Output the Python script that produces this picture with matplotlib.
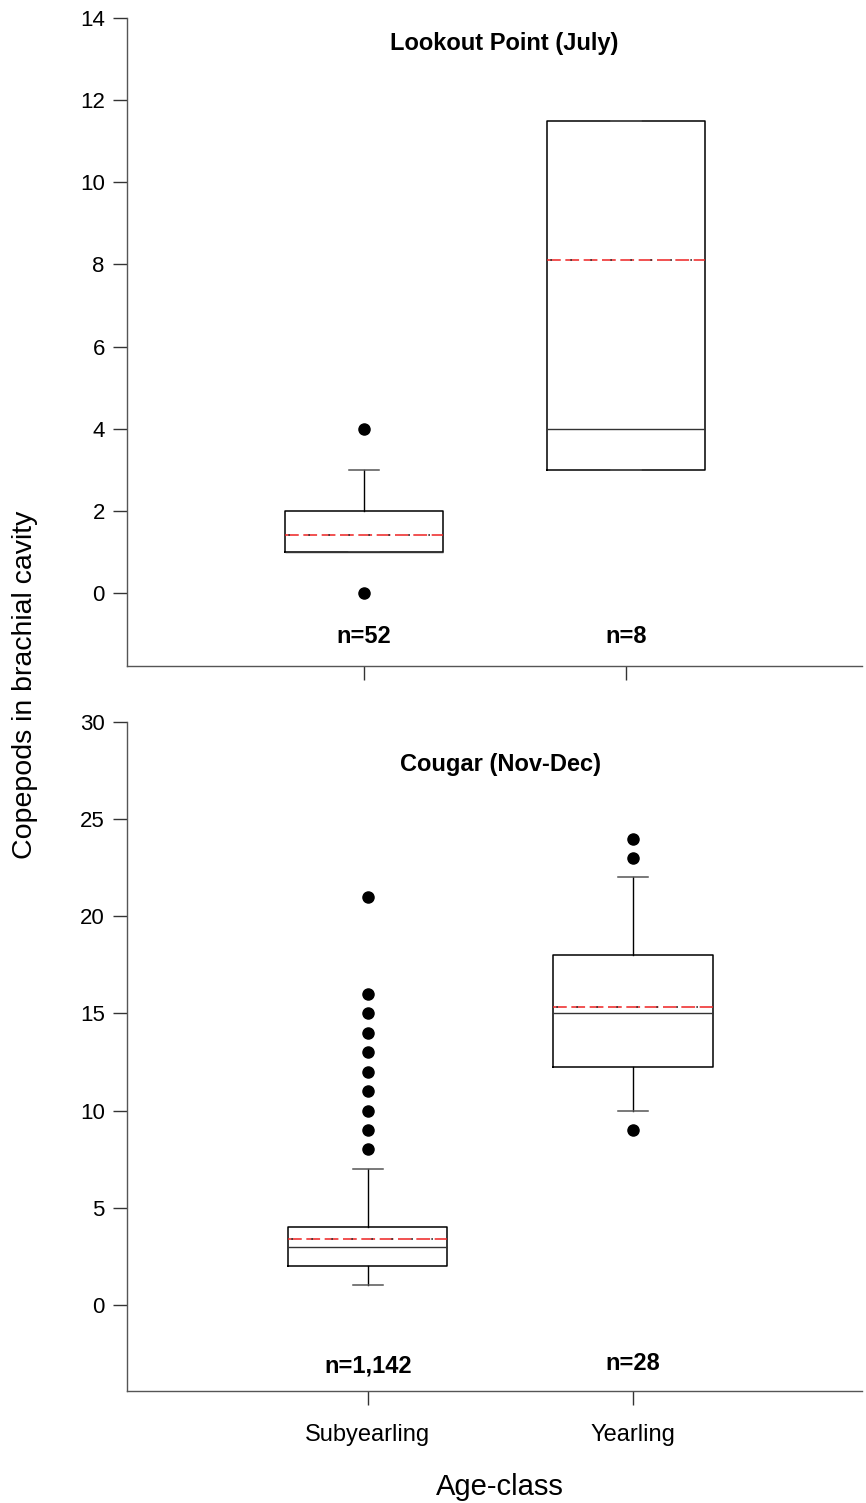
import matplotlib
matplotlib.use("Agg")
import matplotlib.pyplot as plt

plt.rcParams['font.family'] = ['Liberation Sans', 'DejaVu Sans']

categories = ["Subyearling", "Yearling"]

# Lookout Point (July)
lp_q1 = [1, 3]
lp_med = [1, 4]
lp_q3 = [2, 11.5]
lp_whislo = [1, 3]
lp_whishi = [3, 11.5]
lp_mean = [1.4, 8.1]
lp_fliers = [[0, 4], []]
lp_n = ["n=52", "n=8"]

# Cougar (Nov-Dec)
cg_q1 = [2, 12.25]
cg_med = [3, 15]
cg_q3 = [4, 18]
cg_whislo = [1, 10]
cg_whishi = [7, 22]
cg_mean = [3.4, 15.35]
cg_fliers = [[8, 9, 10, 11, 12, 13, 14, 15, 16, 21], [9, 23, 24]]
cg_n = ["n=1,142", "n=28"]

W, H = 866, 1503
fig = plt.figure(figsize=(W / 100, H / 100), dpi=100)

def make_ax(top, bottom):
    return fig.add_axes([127 / W, 1 - bottom / H, (862 - 127) / W, (bottom - top) / H])

ax1 = make_ax(18, 666)
ax2 = make_ax(722, 1391)

def draw(ax, q1, med, q3, wlo, whi, mean, fliers, labels):
    stats = []
    for i in range(len(q1)):
        stats.append(dict(q1=q1[i], med=med[i], q3=q3[i], whislo=wlo[i], whishi=whi[i],
                          mean=mean[i], fliers=fliers[i], label=categories[i]))
    pos = [1, 2]
    ax.bxp(stats, positions=pos, widths=0.6, showmeans=True, meanline=True,
           boxprops=dict(color='black', linewidth=1.1),
           medianprops=dict(color='#333333', linewidth=1.0),
           whiskerprops=dict(color='black', linewidth=1.0),
           capprops=dict(color='#555555', linewidth=1.1),
           capwidths=0.113,
           flierprops=dict(marker='o', markerfacecolor='black', markeredgecolor='black',
                           markersize=8, linestyle='none'),
           meanprops=dict(color='#ee2222', linestyle=(0, (9, 3)), linewidth=1.1))
    # small dark dots in the gaps of the mean line
    for p, m in zip(pos, mean):
        ax.plot([p - 0.3, p + 0.3], [m, m], color='#333333', linewidth=1.2,
                linestyle=(10, (1.0, 11.0)), zorder=3)
    for s in ['top', 'right']:
        ax.spines[s].set_visible(False)
    for s in ['left', 'bottom']:
        ax.spines[s].set_color('#555555')
        ax.spines[s].set_linewidth(1.0)
    ax.tick_params(axis='both', direction='out', length=10, width=1.0, color='#333333',
                   labelsize=16, pad=6)
    return pos

pos1 = draw(ax1, lp_q1, lp_med, lp_q3, lp_whislo, lp_whishi, lp_mean, lp_fliers, lp_n)
ax1.set_xlim(0.0954, 2.9008)
ax1.set_ylim(-1.78, 14)
ax1.set_yticks(range(0, 15, 2))
ax1.set_xticks(pos1)
ax1.set_xticklabels([])
ax1.text(1.534, 13.37, "Lookout Point (July)", ha='center', va='center',
         fontsize=17, fontweight='bold')
for p, t in zip(pos1, lp_n):
    ax1.text(p, -1.05, t, ha='center', va='center', fontsize=17, fontweight='bold')

pos2 = draw(ax2, cg_q1, cg_med, cg_q3, cg_whislo, cg_whishi, cg_mean, cg_fliers, cg_n)
ax2.set_xlim(0.0927, 2.863)
ax2.set_ylim(-4.43, 30)
ax2.set_yticks(range(0, 31, 5))
ax2.set_xticks(pos2)
ax2.set_xticklabels(categories)
ax2.tick_params(axis='x', pad=14, labelsize=17)
ax2.text(1.499, 27.8, "Cougar (Nov-Dec)", ha='center', va='center',
         fontsize=17, fontweight='bold')
for p, t, y in zip(pos2, cg_n, [-3.14, -3.04]):
    ax2.text(p, y, t, ha='center', va='center', fontsize=17, fontweight='bold')

fig.text(25 / W, 1 - 685 / H, "Copepods in brachial cavity", rotation=90,
         ha='center', va='center', fontsize=20.5)
fig.text(500 / W, 1 - 1487 / H, "Age-class", ha='center', va='center', fontsize=21)

fig.savefig("out.png", dpi=100, facecolor='white')
